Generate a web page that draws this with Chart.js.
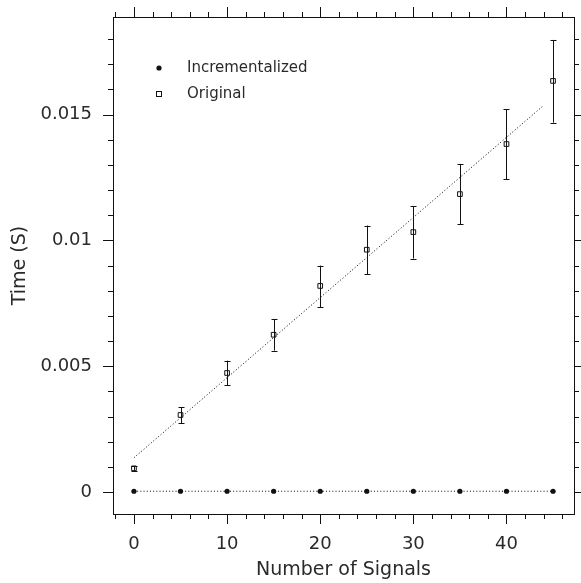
<!DOCTYPE html>
<html>
<head>
<meta charset="utf-8">
<script src="https://cdn.jsdelivr.net/npm/chart.js@4"></script>
<style>
    body { margin: 0; background: #fff; }
    canvas { display: block; }
</style>
</head>
<body>
<canvas id="timing" width="581" height="583"></canvas>
<script>
// number of signals on the x axis
const signals = [0, 5, 10, 15, 20, 25, 30, 35, 40, 45];

// incrementalized version stays close to zero
const incTime = [0.00003, 0.00003, 0.00003, 0.00003, 0.00003, 0.00003, 0.00003, 0.00003, 0.00003, 0.00003];

// original version, with the error bar ends
const origTime = [0.00094, 0.00306, 0.00473, 0.00625, 0.00819, 0.00963, 0.01033, 0.01184, 0.01383, 0.01634];
const origLow = [0.00085, 0.00274, 0.00424, 0.00562, 0.00735, 0.00866, 0.00928, 0.01065, 0.01244, 0.01468];
const origHigh = [0.00103, 0.00338, 0.00522, 0.00688, 0.00900, 0.01059, 0.01135, 0.01304, 0.01522, 0.01797];

// dotted fit line through the original points
const fitX = [0, 44];
const fitY = [0.00136, 0.01537];

// tick labels
const xTicks = [0, 10, 20, 30, 40];
const yTicks = [0, 0.005, 0.01, 0.015];
const yTickLabels = ['0', '0.005', '0.01', '0.015'];
const xMinor = [-2, 0, 2, 4, 6, 8, 10, 12, 14, 16, 18, 20, 22, 24, 26, 28, 30, 32, 34, 36, 38, 40, 42, 44, 46];
const yMinor = [0, 0.001, 0.002, 0.003, 0.004, 0.005, 0.006, 0.007, 0.008, 0.009, 0.01,
    0.011, 0.012, 0.013, 0.014, 0.015, 0.016, 0.017, 0.018];

const FONT = '"DejaVu Sans", sans-serif';
const INK = '#111';
const TEXT = '#2a2a2a';

const toPoints = (xs, ys) => xs.map((x, i) => ({ x: x, y: ys[i] }));

// frame, outside ticks, error bars and the legend
const decorations = {
    id: 'decorations',
    afterDatasetsDraw(chart) {
        const ctx = chart.ctx;
        const { left, right, top, bottom } = chart.chartArea;
        const xs = chart.scales.x;
        const ys = chart.scales.y;
        ctx.save();
        ctx.strokeStyle = INK;
        ctx.lineWidth = 1;

        // error bars for the original series
        signals.forEach((s, i) => {
            const px = Math.round(xs.getPixelForValue(s)) + 0.5;
            const lo = ys.getPixelForValue(origLow[i]);
            const hi = ys.getPixelForValue(origHigh[i]);
            ctx.beginPath();
            ctx.moveTo(px, lo);
            ctx.lineTo(px, hi);
            ctx.moveTo(px - 3, Math.round(lo) + 0.5);
            ctx.lineTo(px + 3, Math.round(lo) + 0.5);
            ctx.moveTo(px - 3, Math.round(hi) + 0.5);
            ctx.lineTo(px + 3, Math.round(hi) + 0.5);
            ctx.stroke();
        });

        // box around the plot
        ctx.strokeRect(Math.round(left) + 0.5, Math.round(top) + 0.5,
            Math.round(right - left), Math.round(bottom - top));

        // ticks pointing outwards on all four sides
        ctx.beginPath();
        xMinor.forEach((v) => {
            const px = Math.round(xs.getPixelForValue(v)) + 0.5;
            const len = v % 10 === 0 ? 10 : 5;
            ctx.moveTo(px, bottom);
            ctx.lineTo(px, bottom + len);
            ctx.moveTo(px, top);
            ctx.lineTo(px, top - len);
        });
        yMinor.forEach((v) => {
            const py = Math.round(ys.getPixelForValue(v)) + 0.5;
            const len = Math.abs(v / 0.005 - Math.round(v / 0.005)) < 1e-6 ? 10 : 5;
            ctx.moveTo(left, py);
            ctx.lineTo(left - len, py);
            ctx.moveTo(right, py);
            ctx.lineTo(right + len, py);
        });
        ctx.stroke();

        // legend inside the plot
        const lx = 159;
        ctx.fillStyle = INK;
        ctx.beginPath();
        ctx.arc(lx, 68, 2.6, 0, Math.PI * 2);
        ctx.fill();
        ctx.strokeRect(lx - 2.5, 91.5, 5, 5);
        ctx.fillStyle = TEXT;
        ctx.font = '15px ' + FONT;
        ctx.textBaseline = 'middle';
        ctx.textAlign = 'left';
        ctx.fillText('Incrementalized', 187, 68);
        ctx.fillText('Original', 187, 94);
        ctx.restore();
    },
};

new Chart(document.getElementById('timing'), {
    type: 'scatter',
    data: {
        datasets: [
            {
                label: 'Incrementalized',
                data: toPoints(signals, incTime),
                showLine: true,
                borderColor: '#000',
                borderWidth: 1,
                borderDash: [1, 2.2],
                pointRadius: 2.6,
                pointBackgroundColor: INK,
                pointBorderColor: INK,
                pointBorderWidth: 0,
            },
            {
                label: 'Original',
                data: toPoints(signals, origTime),
                showLine: false,
                pointStyle: 'rect',
                pointRadius: 3.3,
                pointBackgroundColor: 'rgba(255,255,255,0)',
                pointBorderColor: INK,
                pointBorderWidth: 1,
            },
            {
                label: 'fit',
                data: toPoints(fitX, fitY),
                showLine: true,
                borderColor: '#000',
                borderWidth: 1,
                borderDash: [1, 2.2],
                pointRadius: 0,
            },
        ],
    },
    options: {
        responsive: false,
        animation: false,
        layout: { padding: { left: 0, top: 17, right: 7, bottom: 0 } },
        plugins: {
            legend: { display: false },
            tooltip: { enabled: false },
        },
        scales: {
            x: {
                type: 'linear',
                min: -2.25,
                max: 47.25,
                grid: { display: false, drawTicks: false },
                border: { display: false },
                afterBuildTicks: (scale) => {
                    scale.ticks = xTicks.map((v) => ({ value: v }));
                },
                afterFit: (scale) => {
                    scale.height = 69;
                    scale.paddingLeft = 0;
                    scale.paddingRight = 0;
                },
                ticks: {
                    padding: 20,
                    color: TEXT,
                    font: { family: FONT, size: 18 },
                    callback: (v) => String(v),
                },
                title: {
                    display: true,
                    text: 'Number of Signals',
                    color: TEXT,
                    font: { family: FONT, size: 19 },
                    padding: { top: 0, bottom: 2 },
                },
            },
            y: {
                type: 'linear',
                min: -0.000875,
                max: 0.01888,
                grid: { display: false, drawTicks: false },
                border: { display: false },
                afterBuildTicks: (scale) => {
                    scale.ticks = yTicks.map((v) => ({ value: v }));
                },
                afterFit: (scale) => {
                    scale.width = 113;
                    scale.paddingTop = 0;
                    scale.paddingBottom = 0;
                },
                ticks: {
                    padding: 21,
                    color: TEXT,
                    font: { family: FONT, size: 18 },
                    callback: (v) => yTickLabels[yTicks.indexOf(v)],
                },
                title: {
                    display: true,
                    text: 'Time (S)',
                    color: TEXT,
                    font: { family: FONT, size: 19 },
                    padding: { top: 9, bottom: 0 },
                },
            },
        },
    },
    plugins: [decorations],
});
</script>
</body>
</html>
